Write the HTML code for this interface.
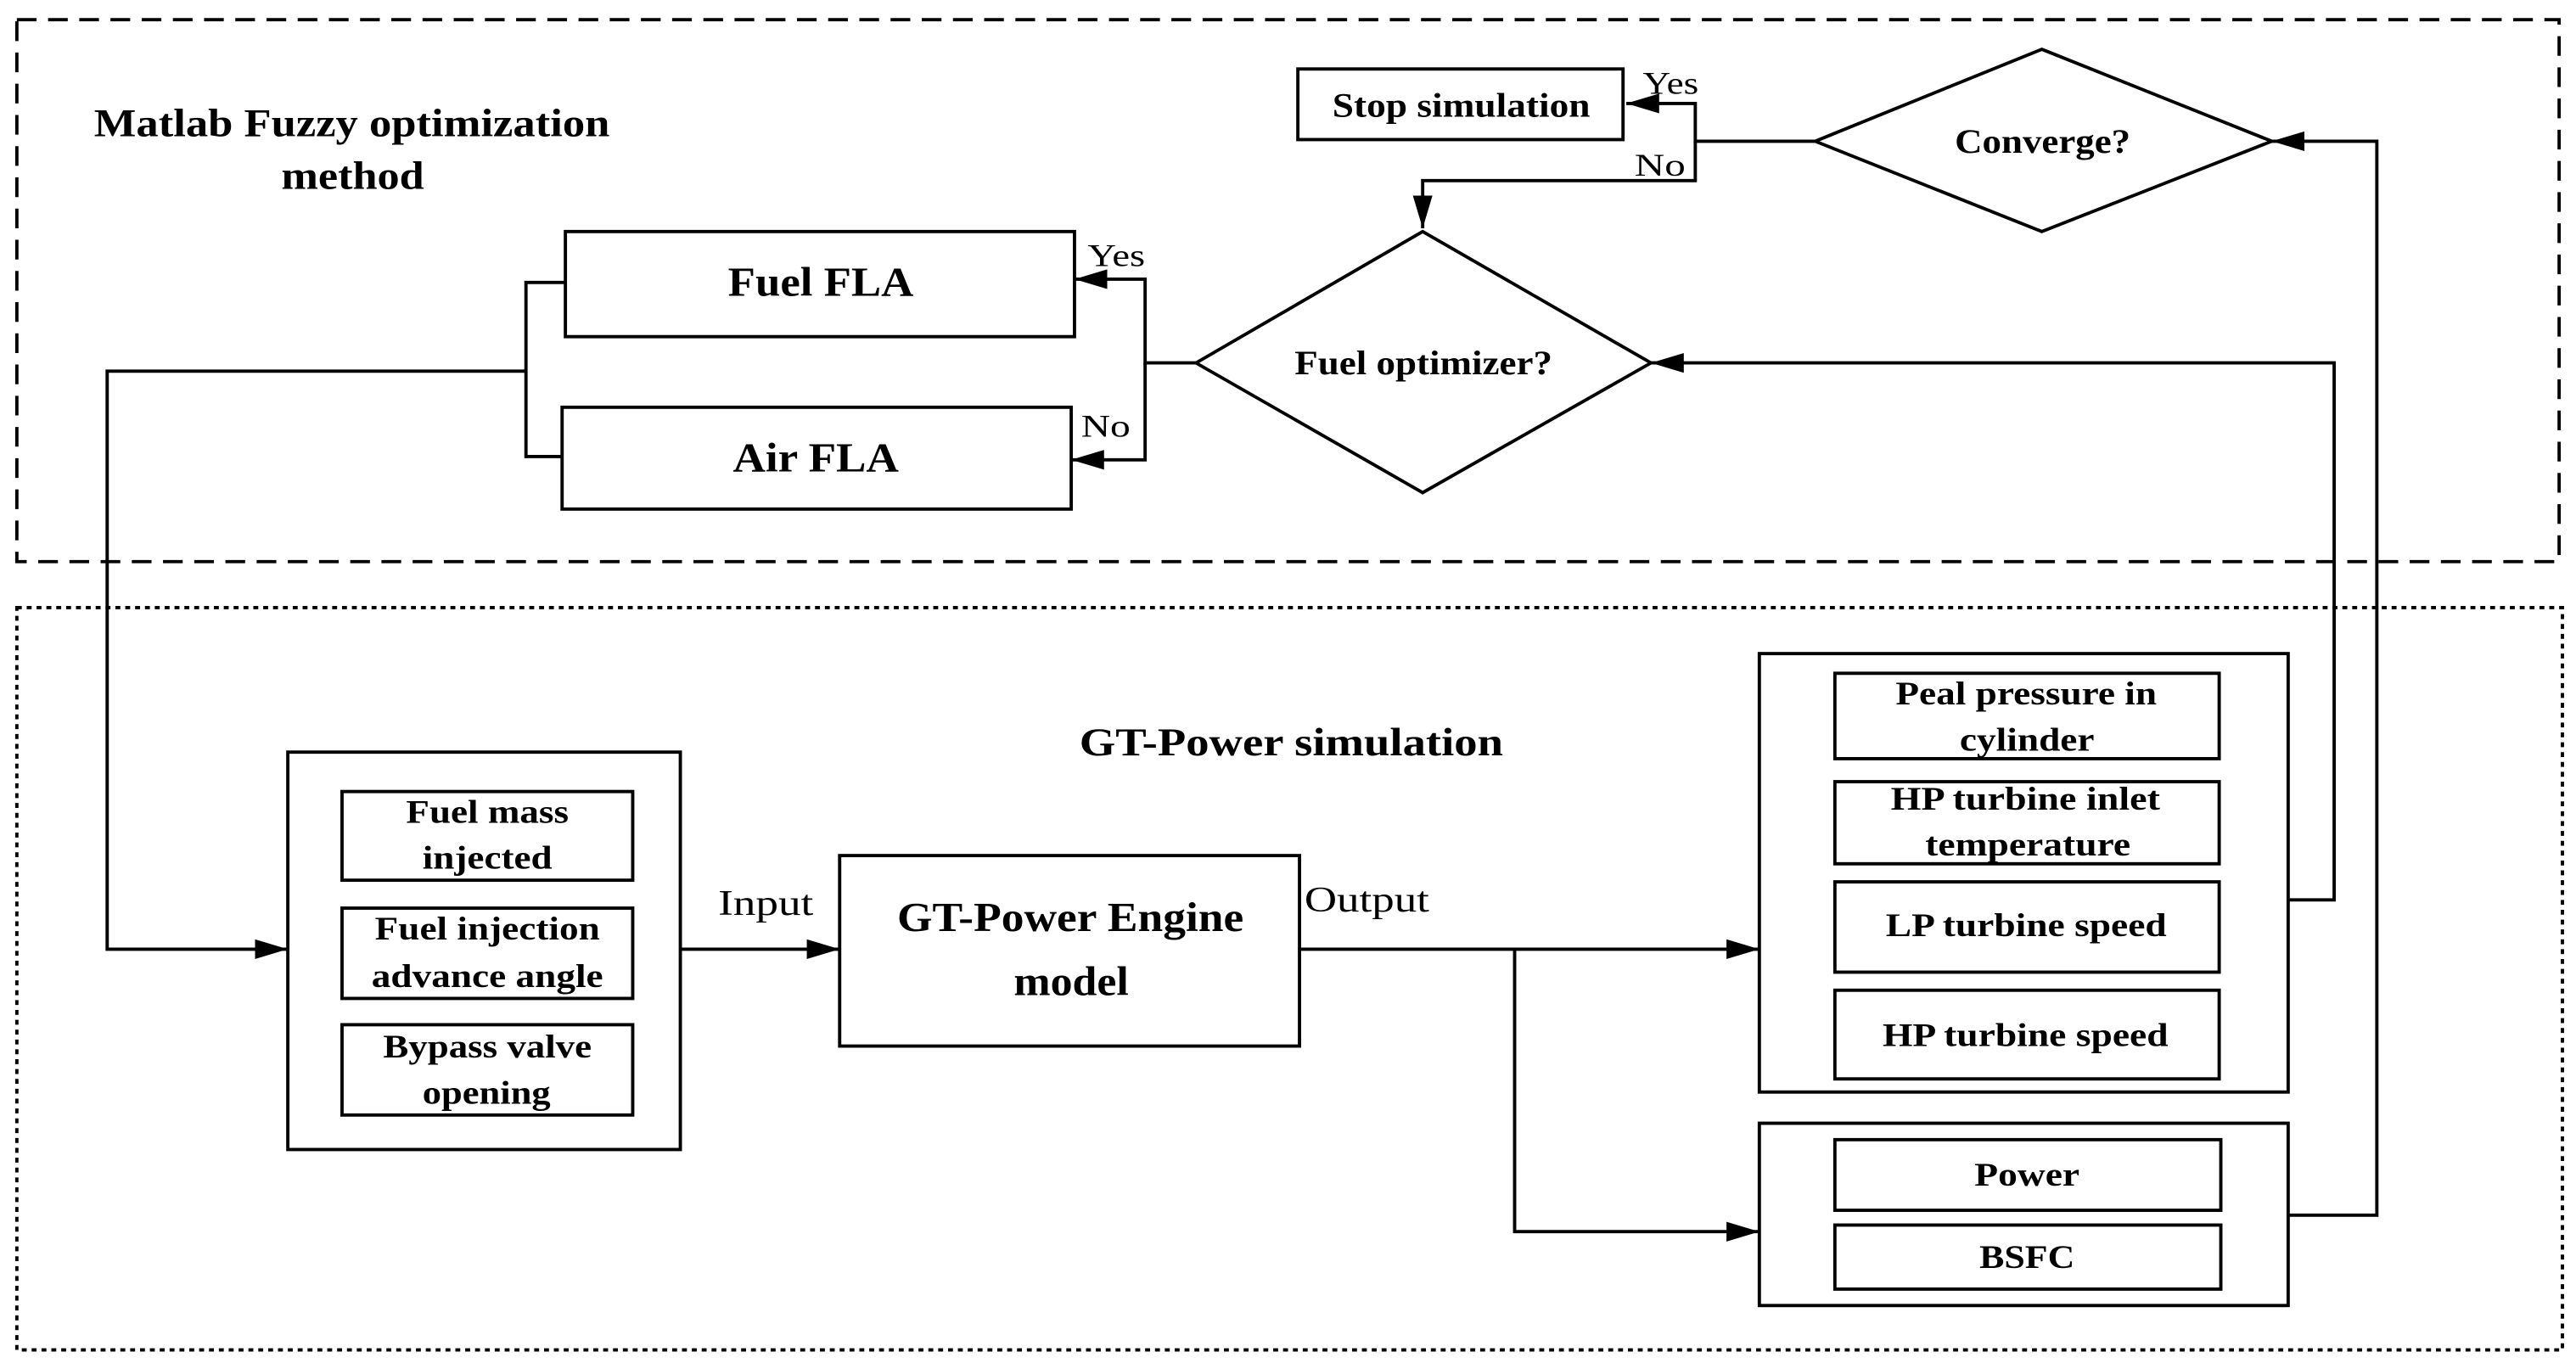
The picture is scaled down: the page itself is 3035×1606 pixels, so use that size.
<!DOCTYPE html>
<html><head><meta charset="utf-8"><style>
html,body{margin:0;padding:0;background:#fff;}
svg{display:block;}
text{font-family:"Liberation Serif",serif;fill:#000;}
.b{font-weight:bold;}
</style></head><body>
<svg width="3035" height="1606" viewBox="0 0 1568 830" xmlns="http://www.w3.org/2000/svg">
<defs>
<marker id="a2" markerWidth="20" markerHeight="12" refX="20" refY="6" orient="auto" markerUnits="userSpaceOnUse">
<path d="M0,0 L20,6 L0,12 Z" fill="#000"/></marker>
</defs>
<g fill="none" stroke="#000" stroke-width="2">
<rect x="10" y="12" width="1548" height="330" stroke-dasharray="12,7"/>
<rect x="10" y="370" width="1550" height="452" stroke-dasharray="3,3"/>
<rect x="790" y="42" width="198" height="43"/>
<polygon points="1105,86 1243,30 1383,86 1243,141"/>
<polygon points="728,221 866,141 1005,221 866,300"/>
<rect x="344" y="141" width="310" height="64"/>
<rect x="342" y="248" width="310" height="62"/>
<rect x="175" y="458" width="239" height="242"/>
<rect x="208" y="482" width="177" height="54"/>
<rect x="208" y="553" width="177" height="55"/>
<rect x="208" y="624" width="177" height="55"/>
<rect x="511" y="521" width="280" height="116"/>
<rect x="1071" y="398" width="322" height="267"/>
<rect x="1117" y="410" width="234" height="52"/>
<rect x="1117" y="476" width="234" height="50"/>
<rect x="1117" y="537" width="234" height="55"/>
<rect x="1117" y="603" width="234" height="54"/>
<rect x="1071" y="684" width="322" height="111"/>
<rect x="1117" y="694" width="235" height="43"/>
<rect x="1117" y="746" width="235" height="39"/>
<polyline points="1105,86 1032,86 1032,63 990,63" marker-end="url(#a2)"/>
<polyline points="1032,86 1032,110 866,110 866,139" marker-end="url(#a2)"/>
<polyline points="728,221 697,221 697,170 654,170" marker-end="url(#a2)"/>
<polyline points="697,221 697,280 652,280" marker-end="url(#a2)"/>
<polyline points="344,172 320,172 320,278 342,278"/>
<polyline points="320,226 65,226 65,578 175,578" marker-end="url(#a2)"/>
<polyline points="414,578 511,578" marker-end="url(#a2)"/>
<polyline points="791,578 1071,578" marker-end="url(#a2)"/>
<polyline points="922,578 922,750 1071,750" marker-end="url(#a2)"/>
<polyline points="1393,548 1421,548 1421,221 1005,221" marker-end="url(#a2)"/>
<polyline points="1393,740 1447,740 1447,86 1383,86" marker-end="url(#a2)"/>
</g>
<g lengthAdjust="spacingAndGlyphs">
<text x="57" y="83" class="b" font-size="24" textLength="314" lengthAdjust="spacingAndGlyphs">Matlab Fuzzy optimization</text>
<text x="171" y="115" class="b" font-size="24" textLength="87" lengthAdjust="spacingAndGlyphs">method</text>
<text x="811" y="71" class="b" font-size="21" textLength="157" lengthAdjust="spacingAndGlyphs">Stop simulation</text>
<text x="1000" y="57" font-size="19" textLength="34" lengthAdjust="spacingAndGlyphs">Yes</text>
<text x="995" y="107" font-size="19" textLength="31" lengthAdjust="spacingAndGlyphs">No</text>
<text x="1190" y="93" class="b" font-size="21" textLength="107" lengthAdjust="spacingAndGlyphs">Converge?</text>
<text x="788" y="228" class="b" font-size="21" textLength="157" lengthAdjust="spacingAndGlyphs">Fuel optimizer?</text>
<text x="662" y="162" font-size="19" textLength="35" lengthAdjust="spacingAndGlyphs">Yes</text>
<text x="658" y="266" font-size="19" textLength="30" lengthAdjust="spacingAndGlyphs">No</text>
<text x="443" y="180" class="b" font-size="25" textLength="113" lengthAdjust="spacingAndGlyphs">Fuel FLA</text>
<text x="446" y="287" class="b" font-size="25" textLength="101" lengthAdjust="spacingAndGlyphs">Air FLA</text>
<text x="657" y="460" class="b" font-size="24" textLength="258" lengthAdjust="spacingAndGlyphs">GT-Power  simulation</text>
<text x="247" y="501" class="b" font-size="20" textLength="99" lengthAdjust="spacingAndGlyphs">Fuel mass</text>
<text x="257" y="529" class="b" font-size="20" textLength="79" lengthAdjust="spacingAndGlyphs">injected</text>
<text x="228" y="572" class="b" font-size="20" textLength="137" lengthAdjust="spacingAndGlyphs">Fuel injection</text>
<text x="226" y="601" class="b" font-size="20" textLength="141" lengthAdjust="spacingAndGlyphs">advance angle</text>
<text x="233" y="644" class="b" font-size="20" textLength="127" lengthAdjust="spacingAndGlyphs">Bypass valve</text>
<text x="257" y="672" class="b" font-size="20" textLength="78" lengthAdjust="spacingAndGlyphs">opening</text>
<text x="1154" y="429" class="b" font-size="20" textLength="159" lengthAdjust="spacingAndGlyphs">Peal pressure in</text>
<text x="1193" y="457" class="b" font-size="20" textLength="82" lengthAdjust="spacingAndGlyphs">cylinder</text>
<text x="1151" y="493" class="b" font-size="20" textLength="164" lengthAdjust="spacingAndGlyphs">HP turbine inlet</text>
<text x="1172" y="521" class="b" font-size="20" textLength="125" lengthAdjust="spacingAndGlyphs">temperature</text>
<text x="1148" y="570" class="b" font-size="20" textLength="171" lengthAdjust="spacingAndGlyphs">LP turbine speed</text>
<text x="1146" y="637" class="b" font-size="20" textLength="174" lengthAdjust="spacingAndGlyphs">HP turbine speed</text>
<text x="1202" y="722" class="b" font-size="20" textLength="64" lengthAdjust="spacingAndGlyphs">Power</text>
<text x="1205" y="772" class="b" font-size="20" textLength="58" lengthAdjust="spacingAndGlyphs">BSFC</text>
<text x="437" y="557" font-size="22" textLength="58" lengthAdjust="spacingAndGlyphs">Input</text>
<text x="794" y="555" font-size="22" textLength="76" lengthAdjust="spacingAndGlyphs">Output</text>
<text x="546" y="567" class="b" font-size="25" textLength="211" lengthAdjust="spacingAndGlyphs">GT-Power Engine</text>
<text x="617" y="606" class="b" font-size="25" textLength="70" lengthAdjust="spacingAndGlyphs">model</text>
</g>
</svg>
</body></html>
